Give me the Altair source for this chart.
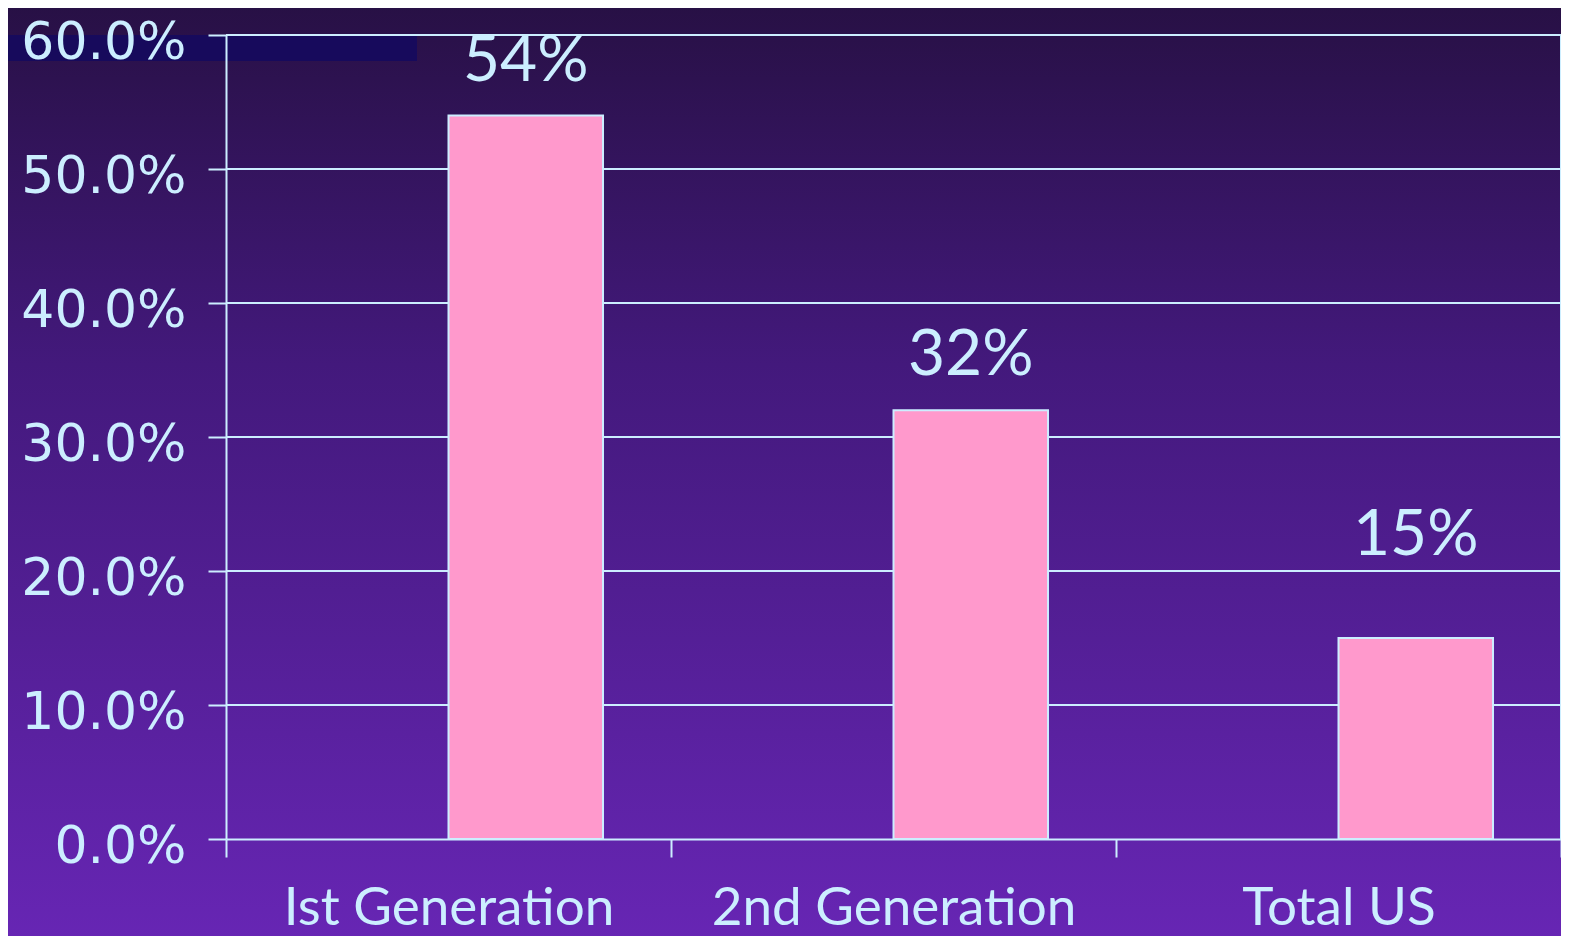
import altair as alt
import pandas as pd

# ---- data ----
categories = ["Ist Generation", "2nd Generation", "Total US"]
shares = [0.54, 0.32, 0.15]
share_labels = ["54%", "32%", "15%"]
label_at = [0.566, 0.346, 0.212]   # where each value label sits (value units)
y_ticks = [0.0, 0.1, 0.2, 0.3, 0.4, 0.5, 0.6]
series_domain = ["blank", "value"]

W, H = 1335, 804
LIGHT = "#cceeff"
PINK = "#ff99cc"

bars_df = pd.DataFrame({"cat": categories, "v": shares, "series": "value"})
text_df = pd.DataFrame({"cat": categories, "v": label_at, "lab": share_labels, "series": "value"})
grid_df = pd.DataFrame({"v": y_ticks[1:]})
one = pd.DataFrame({"a": [0]})

yscale = alt.Scale(domain=[0, 0.6], nice=False, zero=True)
yaxis = alt.Axis(values=y_ticks, format=".1%", title=None, grid=False, zindex=1,
                 labelFontSize=52, labelPadding=22, labelFont="DejaVu Sans", labelOffset=7)
xscale = alt.Scale(paddingInner=0, paddingOuter=0)
xaxis = alt.Axis(title=None, labelAngle=0, tickBand="extent", zindex=1, grid=False,
                 labelFontSize=53, labelFont="Lato", labelBaseline="alphabetic",
                 labelPadding=67, labelLimit=0)
offscale = alt.Scale(domain=series_domain, paddingInner=0, paddingOuter=0.44)

def yenc():
    return alt.Y("v:Q", scale=yscale, axis=yaxis)

def xenc():
    return alt.X("cat:N", sort=categories, scale=xscale, axis=xaxis)

gradient = alt.LinearGradient(
    gradient="linear",
    stops=[alt.GradientStop(color="#271044", offset=0),
           alt.GradientStop(color="#43197c", offset=0.38),
           alt.GradientStop(color="#6826b6", offset=1)],
    x1=0, x2=0, y1=0, y2=1)

bg = alt.Chart(one).mark_rect(color=gradient).encode(
    x=alt.value(-226), x2=alt.value(W + 20), y=alt.value(-35), y2=alt.value(H + 120))

band = alt.Chart(one).mark_rect(color="#170a5c").encode(
    x=alt.value(-226), x2=alt.value(191), y=alt.value(0), y2=alt.value(26))

grid = alt.Chart(grid_df).mark_rule(color=LIGHT, strokeWidth=2).encode(y=yenc())

border = alt.Chart(one).mark_rule(color=LIGHT, strokeWidth=2).encode(
    x=alt.value(W), y=alt.value(0), y2=alt.value(H))

bars = alt.Chart(bars_df).mark_bar(color=PINK, stroke=LIGHT, strokeWidth=2).encode(
    x=xenc(),
    xOffset=alt.XOffset("series:N", scale=offscale),
    y=yenc(),
)

text = alt.Chart(text_df).mark_text(
    color=LIGHT, fontSize=64, font="Lato", baseline="alphabetic", align="center"
).encode(
    x=xenc(),
    xOffset=alt.XOffset("series:N", scale=offscale),
    y=yenc(),
    text="lab:N",
)

chart = alt.layer(bg, band, grid, border, bars, text).properties(
    width=W, height=H,
    autosize=alt.AutoSizeParams(type="none"),
    padding={"left": 218, "top": 27, "right": 0, "bottom": 97},
    background="#43197c",
).configure_view(stroke=None).configure_axis(
    domainColor=LIGHT, domainWidth=2, tickColor=LIGHT, tickWidth=2, tickSize=18,
    labelColor=LIGHT,
)

chart.save("out.html", embed_options={"renderer": "svg", "actions": False})
